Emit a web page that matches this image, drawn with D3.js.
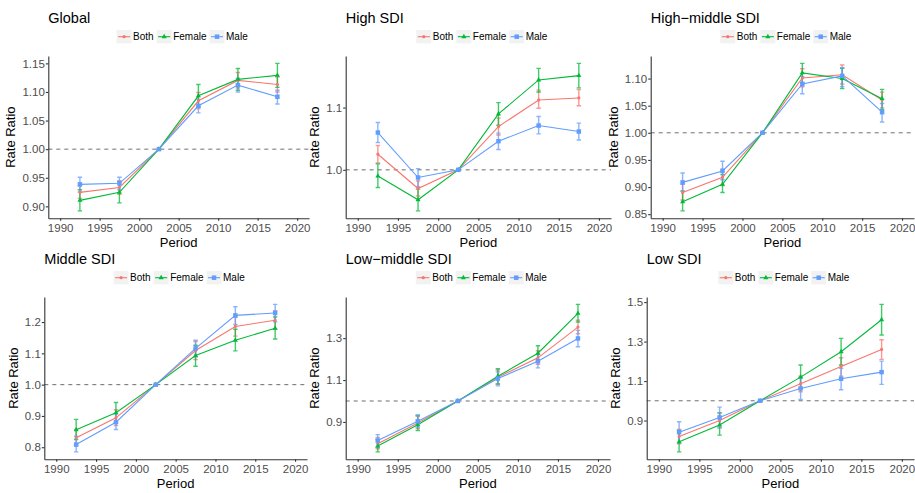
<!DOCTYPE html>
<html>
<head>
<meta charset="utf-8">
<script src="https://cdn.jsdelivr.net/npm/d3@7"></script>
<style>
body { margin: 0; background: #fff; }
svg { font-family: "Liberation Sans", Arial, sans-serif; }
.axis path, .axis line { stroke: #333; stroke-width: 1.1px; }
.axis text { fill: #4d4d4d; font-size: 11.5px; }
</style>
</head>
<body>
<div id="chart"></div>
<script>
// ---- data ----
const periods = [1992.5, 1997.5, 2002.5, 2007.5, 2012.5, 2017.5];
const xTicks = [1990, 1995, 2000, 2005, 2010, 2015, 2020];
const panelTitles = ['Global', 'High SDI', 'High\u2212middle SDI', 'Middle SDI', 'Low\u2212middle SDI', 'Low SDI'];
const yTicks = [
    [0.90, 0.95, 1.00, 1.05, 1.10, 1.15],
    [1.0, 1.1],
    [0.85, 0.90, 0.95, 1.00, 1.05, 1.10],
    [0.8, 0.9, 1.0, 1.1, 1.2],
    [0.9, 1.1, 1.3],
    [0.9, 1.1, 1.3, 1.5]
];
const yDigits = [2, 1, 2, 1, 1, 1];
const sexes = ['Both', 'Female', 'Male'];

// rate ratio per panel (rows follow panelTitles)
const rateBoth = [
    [0.9245, 0.933, 1, 1.0846, 1.1202, 1.1132],
    [1.0251, 0.970, 1, 1.0695, 1.1123, 1.1155],
    [0.890, 0.918, 1, 1.101, 1.107, 1.0605],
    [0.830, 0.894, 1, 1.109, 1.186, 1.206],
    [0.7964, 0.8952, 1, 1.1135, 1.206, 1.3526],
    [0.8192, 0.900, 1, 1.086, 1.174, 1.260]
];
const lowBoth = [
    [0.914, 0.921, 1, 1.071, 1.107, 1.100],
    [1.011, 0.958, 1, 1.056, 1.099, 1.103],
    [0.876, 0.903, 1, 1.085, 1.090, 1.046],
    [0.805, 0.869, 1, 1.080, 1.155, 1.177],
    [0.772, 0.868, 1, 1.080, 1.175, 1.321],
    [0.782, 0.863, 1, 1.046, 1.125, 1.210]
];
const highBoth = [
    [0.936, 0.945, 1, 1.099, 1.134, 1.126],
    [1.039, 0.982, 1, 1.083, 1.128, 1.129],
    [0.905, 0.933, 1, 1.118, 1.125, 1.075],
    [0.857, 0.920, 1, 1.138, 1.215, 1.236],
    [0.826, 0.926, 1, 1.148, 1.240, 1.385],
    [0.855, 0.939, 1, 1.125, 1.218, 1.309]
];
const rateFemale = [
    [0.9105, 0.9245, 1, 1.0933, 1.122, 1.129],
    [0.990, 0.9519, 1, 1.0898, 1.1444, 1.1513],
    [0.873, 0.905, 1, 1.1105, 1.100, 1.063],
    [0.8555, 0.910, 1, 1.093, 1.142, 1.180],
    [0.785, 0.887, 1, 1.118, 1.228, 1.418],
    [0.792, 0.877, 1, 1.120, 1.2484, 1.4107]
];
const lowFemale = [
    [0.892, 0.906, 1, 1.074, 1.103, 1.108],
    [0.9717, 0.934, 1, 1.0717, 1.125, 1.1316],
    [0.856, 0.890, 1, 1.093, 1.0815, 1.043],
    [0.8245, 0.878, 1, 1.059, 1.108, 1.146],
    [0.757, 0.859, 1, 1.0817, 1.190, 1.3766],
    [0.741, 0.826, 1, 1.0625, 1.181, 1.333]
];
const highFemale = [
    [0.929, 0.943, 1, 1.113, 1.141, 1.150],
    [1.0096, 0.969, 1, 1.108, 1.163, 1.171],
    [0.893, 0.923, 1, 1.128, 1.119, 1.080],
    [0.889, 0.943, 1, 1.126, 1.177, 1.216],
    [0.816, 0.932, 1, 1.1535, 1.2637, 1.461],
    [0.8496, 0.939, 1, 1.181, 1.316, 1.4884]
];
const rateMale = [
    [0.9385, 0.9403, 1, 1.0758, 1.112, 1.0916],
    [1.0599, 0.9877, 1, 1.046, 1.0711, 1.0615],
    [0.9086, 0.9296, 1, 1.090, 1.105, 1.038],
    [0.8085, 0.880, 1, 1.1157, 1.2213, 1.229],
    [0.811, 0.903, 1, 1.107, 1.190, 1.2985],
    [0.841, 0.9155, 1, 1.0625, 1.1115, 1.1453]
];
const lowMale = [
    [0.925, 0.929, 1, 1.0635, 1.100, 1.079],
    [1.044, 0.973, 1, 1.0326, 1.0578, 1.048],
    [0.892, 0.9136, 1, 1.072, 1.085, 1.020],
    [0.785, 0.8565, 1, 1.088, 1.192, 1.201],
    [0.779, 0.8745, 1, 1.072, 1.158, 1.259],
    [0.787, 0.863, 1, 1.0068, 1.0558, 1.083]
];
const highMale = [
    [0.951, 0.951, 1, 1.087, 1.124, 1.103],
    [1.076, 1.002, 1, 1.059, 1.0856, 1.075],
    [0.926, 0.9475, 1, 1.104, 1.120, 1.054],
    [0.835, 0.9067, 1, 1.142, 1.249, 1.2565],
    [0.8396, 0.932, 1, 1.139, 1.222, 1.337],
    [0.8935, 0.968, 1, 1.1166, 1.164, 1.201]
];

// ---- layout / style ----
const W = 915, H = 493;
const plotLeft = [48.3, 345.7, 650.7, 44.3, 345.7, 646.7];
const plotRight = [309, 611, 914, 307, 610, 914];
const rowTop = [56, 297];
const rowBottom = [218.3, 459.3];
const sexColor = { Both: '#F8766D', Female: '#00BA38', Male: '#619CFF' };
const sexSymbol = {
    Both: d3.symbol().type(d3.symbolCircle).size(8),
    Female: d3.symbol().type(d3.symbolTriangle).size(11),
    Male: d3.symbol().type(d3.symbolSquare).size(20)
};
const seriesTable = {
    Both: [rateBoth, lowBoth, highBoth],
    Female: [rateFemale, lowFemale, highFemale],
    Male: [rateMale, lowMale, highMale]
};

const svg = d3.select('#chart').append('svg')
    .attr('width', W)
    .attr('height', H);
svg.append('rect').attr('width', W).attr('height', H).attr('fill', '#fff');

function panelSeries(i){
    return sexes.map(s => {
        let [rate, low, high] = seriesTable[s];
        return {
            key: s,
            values: periods.map((p, j) => ({ period: p, rr: rate[i][j], low: low[i][j], high: high[i][j] }))
        };
    });
}

function drawPanel(i){
    let row = Math.floor(i / 3);
    let left = plotLeft[i], right = plotRight[i];
    let top = rowTop[row], bottom = rowBottom[row];
    let series = panelSeries(i);

    // ggplot style 5% expansion
    let lo = d3.min(series, s => d3.min(s.values, d => d.low));
    let hi = d3.max(series, s => d3.max(s.values, d => d.high));
    let pad = (hi - lo) * 0.05;

    let x = d3.scaleLinear().domain([1988.5, 2021.5]).range([left, right]);
    let y = d3.scaleLinear().domain([lo - pad, hi + pad]).range([bottom, top]);

    let g = svg.append('g').attr('class', 'panel_' + i);

    // reference line
    g.append('line')
        .attr('x1', left).attr('x2', right)
        .attr('y1', y(1)).attr('y2', y(1))
        .attr('stroke', '#6e6e6e')
        .attr('stroke-width', 1)
        .attr('stroke-dasharray', '4,4');

    // error bars
    let capw = 2.2;
    series.forEach(s => {
        let eb = g.append('g')
            .attr('stroke', sexColor[s.key])
            .attr('stroke-width', 1.4)
            .attr('stroke-opacity', 0.75)
            .attr('fill', 'none');
        eb.selectAll('path').data(s.values).enter().append('path')
            .attr('d', d => {
                let cx = x(d.period), y0 = y(d.low), y1 = y(d.high);
                return 'M' + (cx - capw) + ',' + y1 + 'H' + (cx + capw) +
                    'M' + cx + ',' + y1 + 'V' + y0 +
                    'M' + (cx - capw) + ',' + y0 + 'H' + (cx + capw);
            });
    });

    // lines
    let line = d3.line().x(d => x(d.period)).y(d => y(d.rr));
    series.forEach(s => {
        g.append('path')
            .datum(s.values)
            .attr('d', line)
            .attr('fill', 'none')
            .attr('stroke', sexColor[s.key])
            .attr('stroke-width', 1.1);
    });

    // points
    series.forEach(s => {
        g.selectAll('.pt_' + s.key).data(s.values).enter().append('path')
            .attr('d', sexSymbol[s.key])
            .attr('transform', d => 'translate(' + x(d.period) + ',' + y(d.rr) + ')')
            .attr('fill', sexColor[s.key]);
    });

    // axes
    g.append('g').attr('class', 'axis')
        .attr('transform', 'translate(0,' + bottom + ')')
        .call(d3.axisBottom(x).tickValues(xTicks).tickFormat(d3.format('d'))
            .tickSize(2.5).tickSizeOuter(0).tickPadding(3.3))
        .attr('font-family', null).attr('font-size', null);

    let yAxis = g.append('g').attr('class', 'axis')
        .attr('transform', 'translate(' + left + ',0)')
        .call(d3.axisLeft(y).tickValues(yTicks[i]).tickFormat(d3.format('.' + yDigits[i] + 'f'))
            .tickSize(2.5).tickSizeOuter(0).tickPadding(1))
        .attr('font-family', null).attr('font-size', null);

    // axis titles
    let labelLeft = left + d3.min(yAxis.selectAll('text').nodes(), n => n.getBBox().x - 3.5);
    g.append('text')
        .text('Rate Ratio')
        .attr('transform', 'translate(' + (labelLeft - 3.5) + ',' + ((top + bottom) / 2) + ') rotate(-90)')
        .attr('text-anchor', 'middle')
        .style('font-size', '13px')
        .attr('fill', '#000');

    g.append('text')
        .text('Period')
        .attr('x', (left + right) / 2)
        .attr('y', bottom + 28.5)
        .attr('text-anchor', 'middle')
        .style('font-size', '13px')
        .attr('fill', '#000');

    // panel title
    g.append('text')
        .text(panelTitles[i])
        .attr('x', left)
        .attr('y', top - 33)
        .style('font-size', '14.5px')
        .attr('fill', '#000');

    drawLegend(g, (left + right) / 2 + 3.5, top - 19.3);
}

function drawLegend(g, cx, cy){
    let lg = g.append('g');
    let keyw = 15, keyh = 13.4;
    let pos = 0;
    sexes.forEach(s => {
        let item = lg.append('g').attr('transform', 'translate(' + pos + ',0)');
        item.append('rect')
            .attr('x', 0).attr('y', cy - keyh / 2)
            .attr('width', keyw).attr('height', keyh)
            .attr('fill', '#F2F2F2');
        item.append('line')
            .attr('x1', 1.5).attr('x2', keyw - 1.5)
            .attr('y1', cy).attr('y2', cy)
            .attr('stroke', sexColor[s])
            .attr('stroke-width', 1.1);
        item.append('path')
            .attr('d', sexSymbol[s])
            .attr('transform', 'translate(' + (keyw / 2) + ',' + cy + ')')
            .attr('fill', sexColor[s]);
        let t = item.append('text')
            .text(s)
            .attr('x', keyw + 1.5)
            .attr('y', cy + 3.6)
            .style('font-size', '10px')
            .attr('fill', '#000');
        pos += keyw + 1.5 + t.node().getComputedTextLength() + 3;
    });
    let total = pos - 3;
    lg.attr('transform', 'translate(' + (cx - total / 2) + ',0)');
}

panelTitles.forEach((t, i) => drawPanel(i));
</script>
</body>
</html>
